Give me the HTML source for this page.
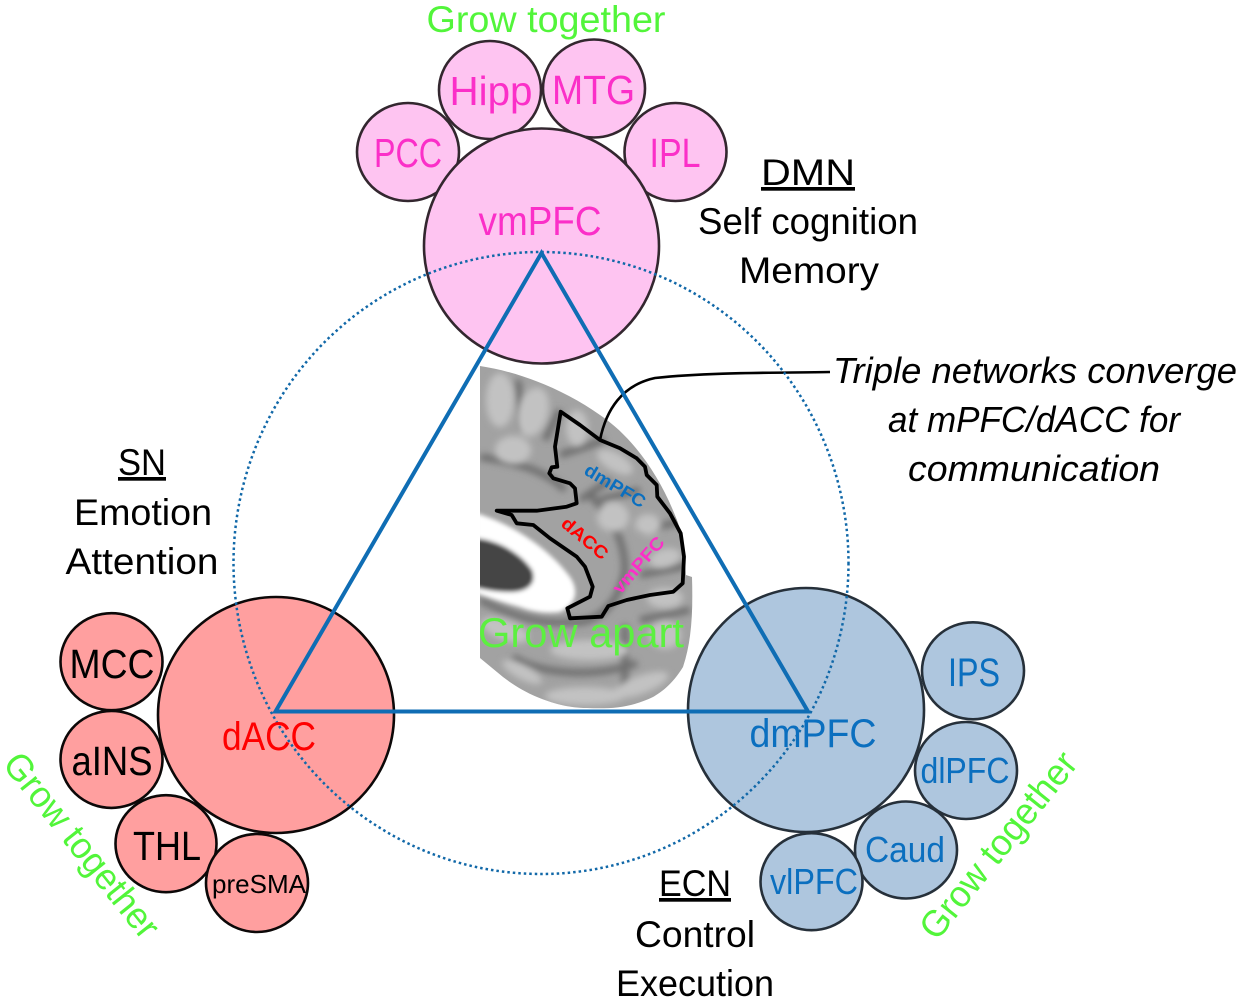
<!DOCTYPE html>
<html><head><meta charset="utf-8"><style>
html,body{margin:0;padding:0;background:#fff}
svg{display:block}
text{font-family:"Liberation Sans",sans-serif;text-anchor:middle}
</style></head><body>
<svg width="1239" height="1003" viewBox="0 0 1239 1003" xmlns="http://www.w3.org/2000/svg">
<defs>
<filter id="b2" x="-30%" y="-30%" width="160%" height="160%"><feGaussianBlur stdDeviation="3.5"/></filter>
<filter id="b3" x="-30%" y="-30%" width="160%" height="160%"><feGaussianBlur stdDeviation="2"/></filter>
<clipPath id="brain"><path d="M480 366 C520 372 565 390 600 415 C640 442 668 490 682 535 L686 575 L692 577 C693 610 692 640 683 667 C672 685 660 693 653 697 C630 708 610 709 587 708 C568 708 552 703 537 697 C525 692 512 684 503 677 L480 658 Z"/></clipPath>
</defs>
<!-- brain -->
<g clip-path="url(#brain)">
<rect x="470" y="360" width="230" height="360" fill="#a2a2a2"/>
<g filter="url(#b2)" fill="none" stroke="#6e6e6e" stroke-width="7">
<path d="M480 457 C515 462 545 470 565 490"/>
<path d="M480 600 C510 615 540 625 570 622 C600 625 620 600 625 570 C625 540 610 515 590 495"/>
<path d="M513 657 C535 672 590 680 637 663"/>
<path d="M518 380 L522 430 M560 410 L545 440 M605 440 L560 455 M610 480 L580 500 M640 490 L600 500 M640 530 L690 520 M640 575 L690 565 M640 620 L690 610 M625 625 L625 690"/>
</g>
<g filter="url(#b2)" fill="#c2c2c2">
<ellipse cx="500" cy="400" rx="14" ry="27"/><ellipse cx="533" cy="412" rx="15" ry="25" transform="rotate(15 533 412)"/>
<ellipse cx="513" cy="450" rx="18" ry="14"/><ellipse cx="577" cy="428" rx="11" ry="18"/>
<ellipse cx="613" cy="517" rx="16" ry="15"/><ellipse cx="615" cy="462" rx="20" ry="9" transform="rotate(30 615 462)"/>
<ellipse cx="648" cy="525" rx="13" ry="11"/>
<ellipse cx="665" cy="558" rx="16" ry="9" transform="rotate(-15 665 558)"/><ellipse cx="665" cy="598" rx="18" ry="10"/>
<ellipse cx="665" cy="635" rx="16" ry="14"/><ellipse cx="640" cy="685" rx="30" ry="9" transform="rotate(-20 640 685)"/>
<ellipse cx="585" cy="696" rx="40" ry="9"/><ellipse cx="522" cy="672" rx="22" ry="7" transform="rotate(28 522 672)"/>
<ellipse cx="590" cy="650" rx="40" ry="10"/><ellipse cx="505" cy="630" rx="25" ry="10" transform="rotate(20 505 630)"/>
</g>
<g filter="url(#b3)">
<path d="M476 513 C515 525 550 550 570 577 C580 592 575 605 560 612 C545 614 530 611 520 607 C505 603 490 598 476 593Z" fill="#fff"/>
<path d="M474 538 C500 540 522 555 532 570 C538 585 525 592 510 592 C498 592 485 590 474 587Z" fill="#444"/>
</g>
</g>
<path d="M560.7 411.7 L580 425 L600 440 L620 448.3 L636.7 458.3 L645 466.7 L646.7 475 L656.7 485 L657.3 496.7 L670 513.3 L680.7 533.3 L684 556.7 L682.7 583.3 L673.3 591.7 L650 595 L626.7 600 L608.3 606 L601.7 616.7 L570 618.3 L567.3 608.3 L590 596.7 L592.7 586.7 L585 566.7 L576.7 556.7 L550 538.3 L533.3 525 L516.7 523.3 L511.7 515 L496.7 510.7 L536.7 510.7 L566.7 506.7 L576.7 503.3 L575 488.3 L570 483.3 L553.3 478.3 L549.3 473.3 L551.7 467.3 L557.3 466.7 L555 446.7 Z" fill="none" stroke="#000" stroke-width="3.8" stroke-linejoin="round"/>
<path d="M600 440 C606 410 622 385 655 378 C710 372 780 373 830 372" fill="none" stroke="#000" stroke-width="2.6"/>
<g font-weight="bold" font-size="18">
<text transform="translate(612 491) rotate(31)" fill="#0b6fbf" textLength="68" lengthAdjust="spacingAndGlyphs">dmPFC</text>
<text transform="translate(581 543) rotate(40)" fill="#f00" textLength="55" lengthAdjust="spacingAndGlyphs">dACC</text>
<text transform="translate(643 569) rotate(-49)" fill="#fb2fc8" textLength="69" lengthAdjust="spacingAndGlyphs">vmPFC</text>
</g>
<!-- circles -->
<g stroke="#33272f" stroke-width="2.6" fill="#fec4f1">
<ellipse cx="490" cy="90" rx="51" ry="49"/><ellipse cx="594" cy="88.5" rx="51" ry="49"/>
<ellipse cx="408" cy="152" rx="51" ry="49"/><ellipse cx="675.5" cy="152" rx="51" ry="49"/>
<circle cx="541.5" cy="246" r="117.5"/>
</g>
<g fill="#ff9f9f" stroke="#0c0808" stroke-width="2.6">
<ellipse cx="111.5" cy="661.7" rx="51" ry="48.5"/><ellipse cx="111.5" cy="759.4" rx="51" ry="48.5"/>
<ellipse cx="166" cy="843.7" rx="50.5" ry="48.5"/><ellipse cx="257" cy="883" rx="51" ry="49"/>
<circle cx="276" cy="715" r="118"/>
</g>
<g fill="#aec6de" stroke="#26303a" stroke-width="2.6">
<ellipse cx="973" cy="670.8" rx="51" ry="48.5"/><ellipse cx="966" cy="770.5" rx="51" ry="48.5"/>
<ellipse cx="906" cy="850" rx="51" ry="48.5"/><ellipse cx="811.5" cy="881.7" rx="51" ry="48.5"/>
<ellipse cx="806" cy="710" rx="118" ry="122"/>
</g>
<ellipse cx="541" cy="563" rx="307.5" ry="311" fill="none" stroke="#1168a8" stroke-width="2.5" stroke-dasharray="2.5 3"/>
<path d="M541.5 253 L275.5 711.5 L808 711.5 Z" fill="none" stroke="#0f6db4" stroke-width="4"/>
<!-- labels -->
<g font-size="41" fill="#fb2fc8">
<text x="491" y="105" textLength="83" lengthAdjust="spacingAndGlyphs">Hipp</text>
<text x="593.5" y="104" textLength="83" lengthAdjust="spacingAndGlyphs">MTG</text>
<text x="408" y="167" textLength="68" lengthAdjust="spacingAndGlyphs">PCC</text>
<text x="675" y="167" textLength="51" lengthAdjust="spacingAndGlyphs">IPL</text>
<text x="540" y="235" textLength="123" lengthAdjust="spacingAndGlyphs">vmPFC</text>
</g>
<g font-size="41" fill="#000">
<text x="112" y="678" textLength="85" lengthAdjust="spacingAndGlyphs">MCC</text>
<text x="112" y="775" textLength="81" lengthAdjust="spacingAndGlyphs">aINS</text>
<text x="167" y="860" textLength="68" lengthAdjust="spacingAndGlyphs">THL</text>
<text x="259" y="893" font-size="26" textLength="94" lengthAdjust="spacingAndGlyphs">preSMA</text>
</g>
<text x="269" y="750" font-size="40" fill="#f00" textLength="94" lengthAdjust="spacingAndGlyphs">dACC</text>
<g font-size="40" fill="#0b6fbf">
<text x="813" y="747" textLength="127" lengthAdjust="spacingAndGlyphs">dmPFC</text>
<text x="974" y="686" textLength="52" lengthAdjust="spacingAndGlyphs">IPS</text>
<text x="965" y="783" font-size="36" textLength="89" lengthAdjust="spacingAndGlyphs">dlPFC</text>
<text x="905" y="862" font-size="36" textLength="80" lengthAdjust="spacingAndGlyphs">Caud</text>
<text x="814" y="894" font-size="36" textLength="88" lengthAdjust="spacingAndGlyphs">vlPFC</text>
</g>
<g font-size="37" fill="#52f53a">
<text x="546" y="32" textLength="239" lengthAdjust="spacingAndGlyphs">Grow together</text>
<text x="581" y="647" font-size="42" fill="#5cf040" textLength="206" lengthAdjust="spacingAndGlyphs">Grow apart</text>
<text transform="translate(72 853) rotate(51.4)" textLength="226" lengthAdjust="spacingAndGlyphs">Grow together</text>
<text transform="translate(1008 853) rotate(-51.3)" textLength="228" lengthAdjust="spacingAndGlyphs">Grow together</text>
</g>
<g font-size="37" fill="#000">
<text x="808" y="185" textLength="94" lengthAdjust="spacingAndGlyphs" text-decoration="underline">DMN</text>
<text x="808" y="234" textLength="220" lengthAdjust="spacingAndGlyphs">Self cognition</text>
<text x="809" y="283" textLength="140" lengthAdjust="spacingAndGlyphs">Memory</text>
<text x="142" y="475" textLength="48" lengthAdjust="spacingAndGlyphs" text-decoration="underline">SN</text>
<text x="143" y="525" textLength="138" lengthAdjust="spacingAndGlyphs">Emotion</text>
<text x="142" y="574" textLength="153" lengthAdjust="spacingAndGlyphs">Attention</text>
<text x="695" y="896" textLength="72" lengthAdjust="spacingAndGlyphs" text-decoration="underline">ECN</text>
<text x="695" y="947" textLength="120" lengthAdjust="spacingAndGlyphs">Control</text>
<text x="695" y="996" textLength="158" lengthAdjust="spacingAndGlyphs">Execution</text>
<g font-style="italic" font-size="36">
<text x="1035" y="383" textLength="404" lengthAdjust="spacingAndGlyphs">Triple networks converge</text>
<text x="1034" y="432" textLength="292" lengthAdjust="spacingAndGlyphs">at mPFC/dACC for</text>
<text x="1034" y="481" textLength="252" lengthAdjust="spacingAndGlyphs">communication</text>
</g>
</g>
</svg>
</body></html>
